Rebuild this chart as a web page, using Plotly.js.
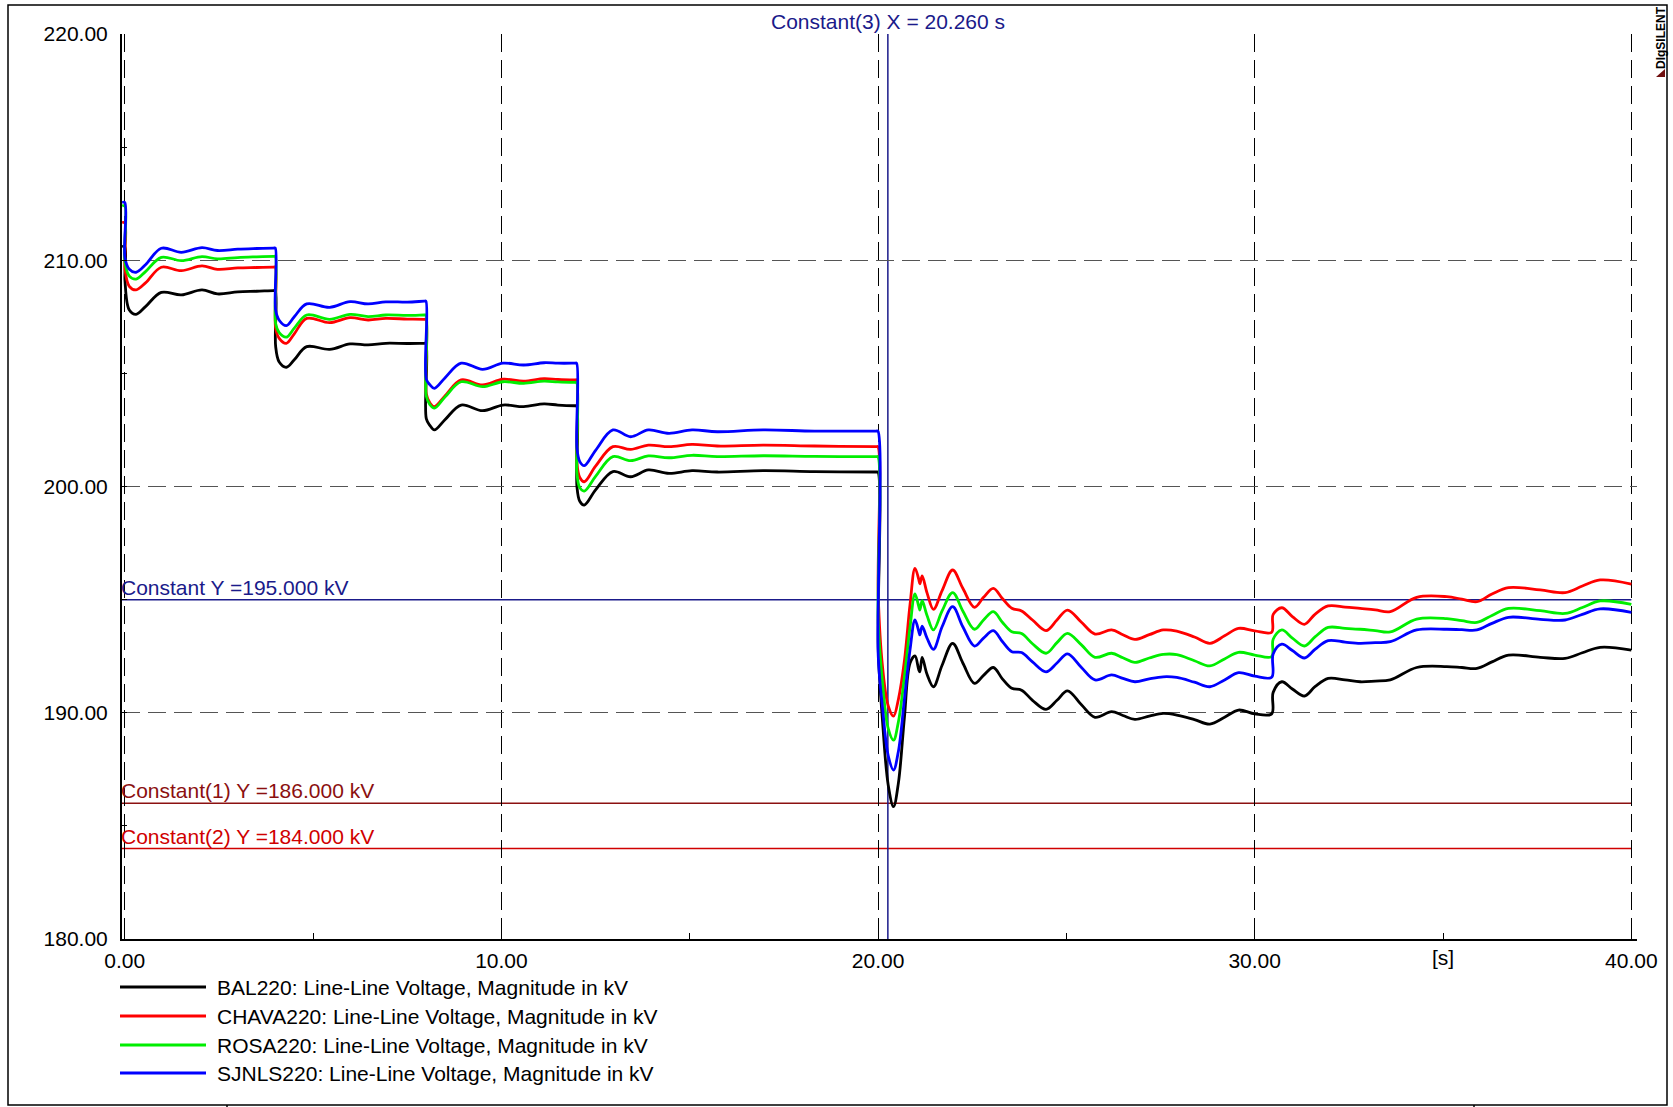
<!DOCTYPE html>
<html>
<head>
<meta charset="utf-8">
<script src="https://cdn.plot.ly/plotly-3.0.1.min.js"></script>
<style>
  html, body { margin: 0; padding: 0; background: #ffffff; }
  #chart { width: 1673px; height: 1107px; }
</style>
</head>
<body>
<div id="chart"></div>
<script>
// ---------------- DATA ----------------
// time in seconds
const time = [
  -0.07, 0, 0.005, 0.12, 0.3, 0.55, 0.97, 1.5, 2.05, 2.46, 3.0, 3.5, 3.95, 3.995,
  4.005, 4.1, 4.29, 4.5, 4.83, 5.44, 5.98, 6.46, 6.93, 7.5, 7.95, 7.995,
  8.005, 8.1, 8.22, 8.5, 8.93, 9.5, 10.04, 10.59, 11.13, 11.5, 11.95, 11.995,
  12.005, 12.08, 12.2, 12.5, 12.96, 13.43, 13.9, 14.45, 15.06, 15.73, 16.95, 18.31, 19.95, 19.995,
  20.005, 20.12, 20.27, 20.41, 20.54, 20.7, 20.85, 20.98, 21.08, 21.11, 21.17, 21.3, 21.47, 21.7,
  21.98, 22.25, 22.56, 22.8, 23.06, 23.3, 23.55, 23.81, 24.1, 24.46, 24.75, 25.03, 25.4, 25.76,
  26.2, 26.5, 26.82, 27.2, 27.57, 27.93, 28.4, 28.81, 29.2, 29.57, 30.0, 30.45, 30.49, 30.72,
  31.0, 31.32, 31.6, 31.95, 32.4, 32.8, 33.2, 33.6, 34.3, 35.1, 35.5, 35.9, 36.3, 36.74,
  37.58, 38.24, 38.7, 39.17, 40.0
];

// BAL220 line-line voltage [kV]
const bal220 = [
  210.6, 210.6, 209.1, 207.8, 207.61, 207.95, 208.58, 208.47, 208.69, 208.51, 208.6, 208.63, 208.66, 208.66,
  206.2, 205.5, 205.27, 205.6, 206.18, 206.06, 206.3, 206.26, 206.33, 206.32, 206.33, 206.33,
  203.0, 202.7, 202.5, 202.95, 203.6, 203.35, 203.6, 203.53, 203.65, 203.6, 203.57, 203.57,
  200.0, 199.35, 199.18, 199.85, 200.66, 200.43, 200.73, 200.58, 200.7, 200.64, 200.7, 200.66, 200.64, 200.64,
  192.8, 189.6, 186.8, 185.85, 186.9, 189.8, 192.2, 192.51, 191.9, 191.81, 192.45, 191.7, 191.15, 192.1,
  193.07, 192.2, 191.3, 191.65, 192.0, 191.5, 191.08, 191.0, 190.55, 190.15, 190.55, 190.97, 190.35, 189.8,
  190.05, 189.88, 189.71, 189.85, 189.97, 189.9, 189.7, 189.5, 189.8, 190.12, 189.95, 189.95, 190.9, 191.37,
  191.05, 190.74, 191.15, 191.52, 191.45, 191.37, 191.4, 191.45, 192.0, 192.04, 192.0, 191.96, 192.25, 192.55,
  192.45, 192.4, 192.65, 192.89, 192.77
];

// CHAVA220 line-line voltage [kV]
const chava220 = [
  211.66, 211.66, 209.6, 208.85, 208.69, 209.0, 209.69, 209.54, 209.75, 209.6, 209.66, 209.68, 209.7, 209.7,
  207.0, 206.55, 206.33, 206.75, 207.43, 207.24, 207.46, 207.36, 207.43, 207.4, 207.39, 207.39,
  204.1, 203.7, 203.53, 204.0, 204.71, 204.49, 204.74, 204.66, 204.77, 204.73, 204.71, 204.71,
  201.0, 200.4, 200.21, 200.9, 201.76, 201.64, 201.83, 201.76, 201.86, 201.79, 201.83, 201.79, 201.76, 201.76,
  195.2, 192.0, 190.3, 189.85, 190.6, 192.3, 194.8, 196.38, 195.9, 195.7, 196.05, 195.3, 194.57, 195.4,
  196.31, 195.5, 194.66, 195.1, 195.5, 195.05, 194.62, 194.5, 194.1, 193.63, 194.1, 194.54, 194.0, 193.48,
  193.66, 193.45, 193.24, 193.45, 193.66, 193.61, 193.35, 193.07, 193.4, 193.73, 193.62, 193.56, 194.35, 194.64,
  194.25, 193.91, 194.35, 194.72, 194.67, 194.61, 194.55, 194.47, 195.1, 195.13, 195.02, 194.91, 195.25, 195.53,
  195.43, 195.31, 195.6, 195.87, 195.69
];

// ROSA220 line-line voltage [kV]
const rosa220 = [
  212.4, 212.4, 209.9, 209.3, 209.17, 209.5, 210.13, 209.98, 210.16, 210.06, 210.12, 210.15, 210.17, 210.17,
  207.2, 206.8, 206.6, 207.0, 207.58, 207.39, 207.61, 207.51, 207.58, 207.56, 207.58, 207.58,
  204.0, 203.62, 203.46, 203.95, 204.63, 204.41, 204.63, 204.56, 204.66, 204.62, 204.6, 204.6,
  200.6, 199.95, 199.8, 200.45, 201.32, 201.14, 201.35, 201.27, 201.38, 201.32, 201.36, 201.33, 201.32, 201.32,
  194.0, 191.3, 189.3, 188.79, 189.6, 191.6, 193.8, 195.25, 194.7, 194.54, 194.95, 194.3, 193.66, 194.5,
  195.31, 194.5, 193.69, 194.1, 194.47, 194.0, 193.58, 193.5, 193.05, 192.63, 193.1, 193.51, 193.0, 192.45,
  192.63, 192.43, 192.23, 192.42, 192.58, 192.57, 192.3, 192.07, 192.38, 192.67, 192.55, 192.48, 193.25, 193.66,
  193.3, 192.95, 193.35, 193.77, 193.73, 193.69, 193.63, 193.57, 194.14, 194.16, 194.07, 193.99, 194.3, 194.61,
  194.51, 194.39, 194.65, 194.94, 194.79
];

// SJNLS220 line-line voltage [kV]
const sjnls220 = [
  212.55, 212.55, 210.1, 209.6, 209.47, 209.8, 210.53, 210.35, 210.56, 210.43, 210.49, 210.52, 210.54, 210.54,
  207.8, 207.35, 207.11, 207.5, 208.07, 207.92, 208.17, 208.07, 208.16, 208.15, 208.19, 208.19,
  204.75, 204.5, 204.34, 204.8, 205.45, 205.18, 205.45, 205.37, 205.47, 205.45, 205.45, 205.45,
  201.7, 201.1, 200.92, 201.6, 202.5, 202.2, 202.5, 202.35, 202.5, 202.42, 202.5, 202.45, 202.45, 202.45,
  192.5, 190.2, 188.1, 187.47, 188.3, 190.6, 192.8, 194.1, 193.6, 193.44, 193.83, 193.3, 192.8, 193.8,
  194.69, 193.8, 192.95, 193.3, 193.63, 193.15, 192.7, 192.66, 192.25, 191.81, 192.2, 192.6, 192.0, 191.45,
  191.67, 191.52, 191.37, 191.5, 191.59, 191.56, 191.35, 191.15, 191.45, 191.77, 191.62, 191.57, 192.6, 193.03,
  192.75, 192.42, 192.8, 193.19, 193.12, 193.07, 193.1, 193.14, 193.66, 193.69, 193.67, 193.66, 193.95, 194.22,
  194.13, 194.1, 194.35, 194.59, 194.44
];

const seriesNames = [
  "BAL220: Line-Line Voltage, Magnitude in kV",
  "CHAVA220: Line-Line Voltage, Magnitude in kV",
  "ROSA220: Line-Line Voltage, Magnitude in kV",
  "SJNLS220: Line-Line Voltage, Magnitude in kV"
];
const seriesColors = ["#000000", "#ff0000", "#00ee00", "#0000ff"];

// constant markers
const constY = [195.0, 186.0, 184.0];
const constYLabels = ["Constant Y =195.000 kV", "Constant(1) Y =186.000 kV", "Constant(2) Y =184.000 kV"];
const constYColors = ["#1a1a8a", "#8b1010", "#d00000"];
const constX = 20.26;
const constXLabel = "Constant(3) X = 20.260 s";

const xTicks = [0, 10, 20, 30, 40];
const xTickText = ["0.00", "10.00", "20.00", "30.00", "40.00"];
const yTicks = [180, 190, 200, 210, 220];
const yTickText = ["180.00", "190.00", "200.00", "210.00", "220.00"];
const xUnit = "[s]";
const xUnitPos = 35;

// ---------------- LAYOUT GEOMETRY ----------------
const W = 1673, H = 1107;
const ML = 122, MR = 36, MT = 34, MB = 168;
const PW = W - ML - MR, PH = H - MT - MB;
const px2x = p => (p - ML) / PW;          // pixel x -> paper x
const px2y = p => (H - MB - p) / PH;      // pixel y -> paper y

const FONT = "Liberation Sans, Arial, Helvetica, sans-serif";
const FS = 21;
const dataSeries = [bal220, chava220, rosa220, sjnls220];

const traces = dataSeries.map((vals, i) => ({
  type: "scatter",
  mode: "lines",
  x: time,
  y: vals,
  name: seriesNames[i],
  line: { color: seriesColors[i], width: 2.8, shape: "spline", smoothing: 1 },
  hoverinfo: "x+y+name"
}));

const shapes = [];
const annotations = [];

// constant horizontal lines
constY.forEach((v, i) => {
  shapes.push({ type: "line", xref: "x", yref: "y", x0: -0.074, x1: 40, y0: v, y1: v,
    line: { color: constYColors[i], width: 1.5 }, layer: "below" });
  annotations.push({ xref: "x", yref: "y", x: -0.074, y: v, xanchor: "left", yanchor: "bottom",
    text: constYLabels[i], showarrow: false, font: { family: FONT, size: FS, color: constYColors[i] },
    yshift: -1, xshift: -3 });
});
// constant vertical line
shapes.push({ type: "line", xref: "x", yref: "y", x0: constX, x1: constX, y0: 180, y1: 220,
  line: { color: "#1a1a8a", width: 1.5 }, layer: "below" });
annotations.push({ xref: "x", yref: "y", x: constX, y: 220, xanchor: "center", yanchor: "bottom",
  text: constXLabel, showarrow: false, font: { family: FONT, size: FS, color: "#1a1a8a" }, yshift: -1 });

// x unit label
annotations.push({ xref: "x", yref: "paper", x: xUnitPos, y: 0, xanchor: "center", yanchor: "top",
  text: xUnit, showarrow: false, font: { family: FONT, size: FS, color: "#000000" }, yshift: -5 });

// custom legend
const legendRows = [987, 1016, 1045, 1073];
seriesNames.forEach((nm, i) => {
  const yy = px2y(legendRows[i]);
  shapes.push({ type: "line", xref: "paper", yref: "paper", x0: px2x(120), x1: px2x(206), y0: yy, y1: yy,
    line: { color: seriesColors[i], width: 3 } });
  annotations.push({ xref: "paper", yref: "paper", x: px2x(215), y: yy, xanchor: "left", yanchor: "middle",
    text: nm, showarrow: false, font: { family: FONT, size: FS, color: "#000000" } });
});

// outer frame
shapes.push({ type: "rect", xref: "paper", yref: "paper", x0: px2x(8), x1: px2x(1667), y0: px2y(1105), y1: px2y(5),
  line: { color: "#000000", width: 1.5 }, fillcolor: "rgba(0,0,0,0)" });
[227, 1474].forEach(p => {
  shapes.push({ type: "line", xref: "paper", yref: "paper", x0: px2x(p), x1: px2x(p), y0: px2y(1105), y1: px2y(1107),
    line: { color: "#000000", width: 1.5 } });
});

// DIgSILENT logo
annotations.push({ xref: "paper", yref: "paper", x: px2x(1661), y: px2y(38), xanchor: "center", yanchor: "middle",
  text: "<b>DIgSILENT</b>", textangle: -90, showarrow: false,
  font: { family: FONT, size: 12, color: "#000000" } });
shapes.push({ type: "path", xref: "paper", yref: "paper",
  path: "M " + px2x(1656) + " " + px2y(77) + " L " + px2x(1665) + " " + px2y(77) + " L " + px2x(1665) + " " + px2y(69) + " Z",
  fillcolor: "#701010", line: { width: 0 } });

const layout = {
  width: W, height: H,
  margin: { l: ML, r: MR, t: MT, b: MB, pad: 0 },
  paper_bgcolor: "#ffffff",
  plot_bgcolor: "#ffffff",
  showlegend: false,
  font: { family: FONT, size: FS, color: "#000000" },
  xaxis: {
    range: [-0.074, 40.15],
    tickmode: "array", tickvals: xTicks, ticktext: xTickText,
    showgrid: true, gridcolor: "#000000", gridwidth: 1, griddash: "18px,8px",
    zeroline: false,
    showline: true, linecolor: "#000000", linewidth: 2,
    ticks: "inside", ticklen: 5, tickcolor: "#000000",
    minor: { dtick: 5, tick0: 0, ticks: "inside", ticklen: 6, tickcolor: "#000000", showgrid: false },
    tickfont: { family: FONT, size: FS, color: "#000000" },
    ticklabelstandoff: 2
  },
  yaxis: {
    range: [180, 220],
    tickmode: "array", tickvals: yTicks, ticktext: yTickText,
    showgrid: true, gridcolor: "#555555", gridwidth: 1.4, griddash: "18px,8px",
    zeroline: false,
    showline: true, linecolor: "#000000", linewidth: 2,
    ticks: "inside", ticklen: 5, tickcolor: "#000000",
    minor: { dtick: 5, tick0: 180, ticks: "inside", ticklen: 5, tickcolor: "#000000", showgrid: false },
    tickfont: { family: FONT, size: FS, color: "#000000" },
    ticklabelstandoff: 8
  },
  shapes: shapes,
  annotations: annotations
};

Plotly.newPlot("chart", traces, layout, { displayModeBar: false, staticPlot: false });
</script>
</body>
</html>
